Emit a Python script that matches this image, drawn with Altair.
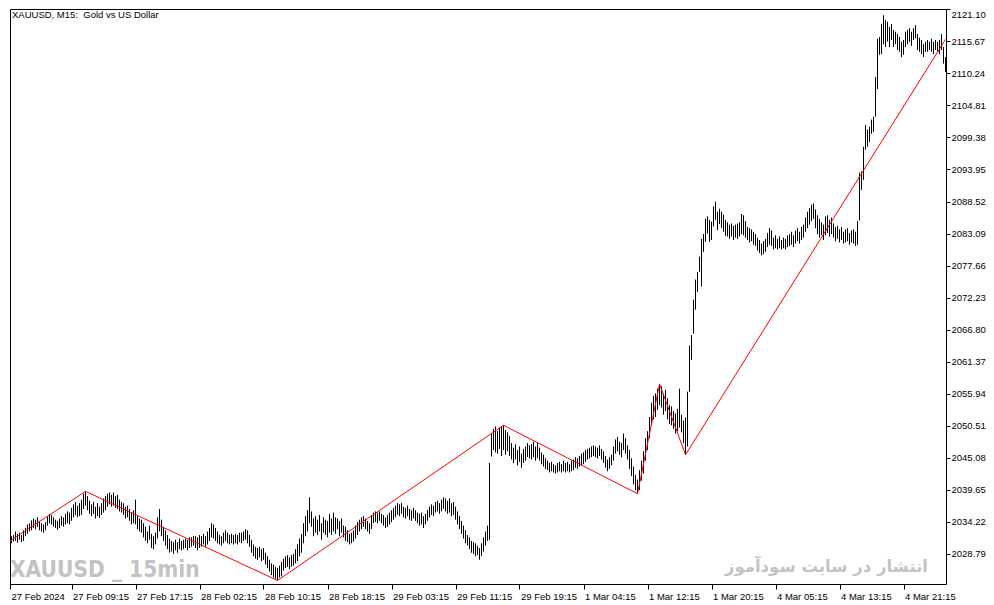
"""XAUUSD M15 bar chart with zigzag, MT5 style."""

import altair as alt
import pandas as pd

FONT = "Liberation Sans"
GRIS = "#c3c3c3"

# bar lows / highs, one entry per 15 min bar (27 Feb 01:45 .. 5 Mar)
lows = [
    2030.6, 2030.9, 2031.0, 2030.7, 2031.2, 2030.8, 2031.0,
    2031.8, 2032.2, 2032.6, 2032.8, 2033.2, 2033.0, 2033.4, 2032.8, 2032.6, 2032.4, 2032.8,
    2033.6, 2034.0, 2033.8, 2033.4, 2033.2, 2032.9, 2033.2, 2033.6, 2033.4, 2033.8, 2034.0, 2033.8,
    2034.4, 2035.0, 2035.4, 2035.0, 2035.2, 2035.4, 2036.4, 2037.0,
    2036.2, 2035.6, 2035.2, 2035.6, 2034.8, 2035.2, 2034.9, 2035.4, 2035.8, 2036.2,
    2036.8, 2037.2, 2036.8, 2037.0, 2036.6, 2036.4, 2036.0, 2035.8,
    2035.4, 2034.8, 2035.0, 2034.4, 2033.8, 2034.0, 2033.8, 2033.0, 2032.6,
    2032.4, 2031.6, 2031.0, 2030.6, 2031.2, 2029.8, 2029.6, 2030.4,
    2031.4, 2032.6, 2031.8, 2031.0,
    2030.2, 2029.6, 2029.0, 2029.2, 2028.8, 2029.4, 2029.0, 2029.6,
    2029.4, 2029.6, 2029.8, 2029.4, 2029.8, 2030.0, 2030.2, 2029.8,
    2029.4, 2029.8, 2030.0, 2030.4, 2030.0, 2030.4,
    2031.0, 2031.6, 2031.4, 2031.0, 2030.6,
    2030.4, 2030.2, 2030.6, 2031.0, 2030.6, 2030.4, 2030.6, 2030.4,
    2030.6, 2030.4, 2030.8, 2030.6, 2031.0, 2031.2, 2030.6, 2030.0,
    2029.0, 2028.4, 2028.0, 2027.8, 2028.2, 2027.6, 2027.8, 2027.0,
    2026.4, 2025.8, 2025.2, 2024.8, 2024.6, 2024.3, 2024.8, 2025.0,
    2026.0, 2026.4, 2026.6, 2026.2, 2026.6, 2026.8,
    2027.2, 2027.6, 2028.4, 2029.0, 2030.6, 2031.8, 2032.6, 2034.0,
    2033.4, 2031.8, 2032.4, 2032.0, 2032.6, 2031.2, 2032.4, 2032.0, 2031.6,
    2032.4, 2032.0, 2032.6, 2032.2, 2033.0, 2031.8, 2032.4, 2031.6, 2031.0,
    2030.8, 2030.4, 2030.6, 2030.9, 2031.4, 2032.0, 2032.6,
    2033.0, 2033.4, 2033.0, 2032.6, 2032.2, 2033.0,
    2034.0, 2034.2, 2034.0, 2034.4, 2034.0, 2033.6, 2033.2, 2033.4, 2033.8, 2034.2, 2034.6,
    2035.0, 2035.4, 2035.2, 2035.6, 2035.0, 2034.8, 2035.2, 2034.6,
    2034.4, 2034.8, 2034.4, 2034.0, 2033.6, 2033.8, 2033.2, 2033.8,
    2034.4, 2035.0, 2035.4, 2035.2, 2035.8, 2036.0, 2035.6,
    2036.0, 2036.4, 2036.0, 2035.6, 2035.8, 2035.2, 2035.4,
    2034.6, 2033.8, 2033.0, 2032.2, 2031.4,
    2030.6, 2030.2, 2029.6, 2029.0, 2028.8, 2028.4, 2028.6, 2027.8, 2028.4, 2029.2, 2030.2, 2031.0,
    2031.2, 2045.3, 2046.4, 2046.0, 2045.8, 2046.6, 2045.4, 2046.4, 2045.6, 2046.2, 2045.4,
    2044.8, 2044.2, 2044.8, 2043.8, 2044.4, 2043.4, 2044.2,
    2044.6, 2045.2, 2045.0, 2044.8, 2045.2, 2044.6, 2045.0, 2044.6,
    2044.0, 2043.6, 2043.2,
    2043.0, 2042.6, 2042.8, 2042.6, 2042.4, 2042.6, 2042.8, 2042.6, 2042.8, 2042.6, 2042.8, 2042.6, 2042.8,
    2043.0, 2043.4, 2043.2, 2043.6, 2043.8, 2044.0, 2044.4,
    2044.8, 2045.0, 2045.2, 2045.4, 2045.2, 2045.0, 2045.4, 2044.8, 2044.2,
    2043.4, 2042.8, 2043.2, 2043.8,
    2044.6, 2045.8, 2046.2, 2045.6, 2045.2, 2046.4, 2045.8, 2044.8, 2043.2, 2042.0,
    2040.6, 2039.6, 2039.0, 2039.6, 2041.2, 2042.4, 2044.6,
    2046.4, 2048.4, 2050.6, 2051.6, 2052.0, 2053.2, 2054.0, 2053.6, 2052.4, 2053.0, 2051.6, 2050.8,
    2050.6, 2050.0, 2049.2, 2049.6, 2050.2, 2049.4, 2047.6, 2045.6, 2047.0, 2056.3, 2061.7,
    2066.1, 2070.2, 2073.2, 2076.6, 2074.1, 2080.0, 2081.7, 2083.1, 2081.7, 2082.0, 2084.3, 2085.4, 2083.7,
    2084.7, 2084.0, 2083.4, 2082.7, 2082.6, 2082.2, 2082.6, 2082.0, 2082.4, 2082.2, 2082.6, 2083.0, 2082.8, 2082.4,
    2082.0, 2081.6, 2081.8, 2081.2, 2081.0,
    2080.2, 2079.8, 2079.4, 2079.6, 2080.0,
    2080.8, 2081.2, 2081.0,
    2080.4, 2080.6, 2080.4, 2080.6, 2080.4, 2080.6, 2080.4,
    2080.8, 2081.0, 2081.2, 2080.8, 2081.4, 2081.8, 2081.4, 2082.0, 2082.4,
    2083.4, 2084.0, 2084.6, 2085.2, 2085.6, 2084.0,
    2083.0, 2082.4, 2082.8, 2082.0, 2082.8, 2083.2, 2082.6, 2083.0, 2082.4,
    2081.8, 2082.2, 2081.6, 2082.0, 2081.4, 2081.6, 2081.8, 2081.2, 2081.6, 2081.4, 2081.0, 2081.2,
    2085.3, 2090.5, 2092.2, 2097.3, 2097.8, 2098.6, 2100.0, 2100.3, 2102.9, 2107.6, 2113.4, 2113.5,
    2115.2, 2114.7, 2115.6, 2114.7, 2115.9, 2114.7, 2115.2, 2114.2, 2113.9, 2113.0, 2113.4, 2114.7, 2115.2, 2115.6,
    2114.9, 2115.9, 2116.2, 2114.2, 2113.9, 2113.5, 2113.0, 2113.9, 2113.9,
    2114.2, 2113.9, 2113.5, 2114.2, 2113.9, 2113.5, 2114.2, 2111.9, 2110.5,
]

highs = [
    2031.8, 2032.0, 2032.6, 2032.2, 2032.4, 2032.0, 2032.8,
    2033.2, 2033.8, 2034.0, 2034.5, 2034.8, 2034.6, 2035.0, 2034.4, 2034.0, 2033.8, 2034.2,
    2035.2, 2035.6, 2035.4, 2035.0, 2034.6, 2034.4, 2034.8, 2035.2, 2035.0, 2035.6, 2036.0, 2035.8,
    2036.6, 2037.2, 2037.6, 2037.0, 2037.4, 2038.0, 2039.0, 2039.4,
    2038.6, 2037.8, 2037.2, 2037.6, 2036.8, 2037.4, 2036.8, 2037.4, 2038.2, 2038.6,
    2039.0, 2039.2, 2038.8, 2039.2, 2038.6, 2038.8, 2038.0, 2037.6,
    2037.4, 2036.8, 2037.0, 2036.4, 2035.8, 2036.2, 2038.0, 2035.2, 2034.8,
    2034.6, 2034.0, 2033.4, 2032.6, 2033.6, 2032.2, 2031.8, 2032.4,
    2035.0, 2036.4, 2034.6, 2033.4,
    2032.8, 2032.0, 2031.4, 2031.0, 2030.8, 2031.2, 2030.8, 2031.4,
    2031.0, 2031.2, 2031.4, 2031.2, 2031.6, 2031.6, 2031.8, 2031.8,
    2031.6, 2032.0, 2031.8, 2032.2, 2031.8, 2032.6,
    2033.2, 2034.0, 2033.8, 2033.2, 2032.6,
    2032.0, 2031.8, 2032.4, 2032.8, 2032.4, 2032.0, 2032.2, 2032.0,
    2032.2, 2032.0, 2032.4, 2032.4, 2032.6, 2033.0, 2032.8, 2032.0,
    2031.2, 2030.4, 2030.0, 2029.8, 2030.0, 2029.6, 2029.8, 2029.0,
    2028.4, 2027.8, 2027.2, 2027.0, 2026.6, 2026.4, 2026.8, 2027.4,
    2028.0, 2028.4, 2028.6, 2028.2, 2028.6, 2028.8,
    2029.6, 2030.4, 2031.4, 2032.2, 2034.0, 2035.2, 2036.2, 2038.4,
    2036.0, 2034.8, 2035.2, 2034.6, 2035.4, 2034.0, 2035.0, 2034.6, 2034.4,
    2035.6, 2034.8, 2035.8, 2035.0, 2034.8, 2034.4, 2034.8, 2033.6, 2033.4,
    2032.8, 2032.2, 2032.4, 2032.8, 2033.6, 2034.2, 2034.6,
    2035.0, 2035.2, 2034.8, 2034.4, 2034.0, 2035.4,
    2035.8, 2036.0, 2035.8, 2036.0, 2035.6, 2035.4, 2035.0, 2035.4, 2035.8, 2036.2, 2036.6,
    2037.0, 2037.4, 2037.2, 2037.4, 2036.8, 2036.6, 2037.0, 2036.4,
    2036.2, 2036.6, 2036.2, 2035.8, 2035.6, 2035.8, 2035.2, 2035.6,
    2036.2, 2036.8, 2037.2, 2037.0, 2037.6, 2037.8, 2037.4,
    2038.0, 2038.4, 2038.2, 2037.8, 2038.2, 2037.4, 2037.6,
    2036.8, 2036.0, 2035.2, 2034.4, 2033.6,
    2032.8, 2032.0, 2031.6, 2031.0, 2030.8, 2030.6, 2030.2, 2029.8, 2030.6, 2031.6, 2032.6, 2033.6,
    2044.2, 2049.3, 2050.0, 2050.4, 2049.6, 2050.2, 2050.4, 2050.6, 2049.8, 2049.4, 2048.8,
    2047.6, 2046.8, 2047.4, 2046.4, 2047.0, 2045.8, 2046.6,
    2047.0, 2047.6, 2047.2, 2047.4, 2047.8, 2047.0, 2047.6, 2046.8,
    2046.0, 2045.6, 2045.0,
    2044.6, 2044.2, 2044.4, 2044.0, 2043.8, 2044.2, 2044.4, 2044.0, 2044.6, 2044.2, 2044.4, 2044.0, 2044.6,
    2044.8, 2045.2, 2045.0, 2045.4, 2045.8, 2046.0, 2046.4,
    2046.6, 2046.8, 2047.0, 2047.2, 2047.0, 2046.8, 2047.2, 2046.6, 2046.2,
    2045.4, 2044.8, 2045.2, 2045.6,
    2047.0, 2048.2, 2048.6, 2047.8, 2047.6, 2049.2, 2048.4, 2047.2, 2046.4, 2045.0,
    2043.6, 2042.2, 2041.4, 2043.0, 2044.6, 2046.2, 2048.4,
    2049.6, 2052.0, 2054.4, 2055.6, 2056.0, 2056.8, 2057.6, 2057.2, 2056.0, 2056.6, 2055.2, 2054.0,
    2053.8, 2053.0, 2052.6, 2053.4, 2056.8, 2052.4, 2051.4, 2051.9, 2056.3, 2064.1, 2065.9,
    2071.9, 2075.3, 2076.6, 2079.2, 2082.2, 2083.0, 2085.6, 2086.0, 2085.4, 2085.1, 2087.7, 2088.5, 2086.8,
    2087.3, 2086.8, 2086.3, 2085.4, 2085.0, 2084.6, 2084.8, 2084.4, 2084.6, 2084.8, 2085.0, 2086.4, 2086.2, 2085.2,
    2084.2, 2084.0, 2083.8, 2083.4, 2083.0,
    2082.4, 2082.0, 2081.4, 2081.8, 2082.2,
    2083.2, 2084.0, 2083.6,
    2082.4, 2082.8, 2082.2, 2082.6, 2082.0, 2082.4, 2082.2,
    2082.8, 2083.0, 2083.4, 2082.8, 2083.6, 2084.0, 2083.4, 2084.2, 2084.6,
    2085.8, 2086.8, 2087.4, 2088.0, 2088.2, 2087.2,
    2086.2, 2085.6, 2085.0, 2084.6, 2086.0, 2086.2, 2085.4, 2085.8, 2084.8,
    2084.2, 2084.4, 2083.8, 2084.2, 2083.4, 2083.8, 2084.0, 2083.2, 2083.6, 2083.8, 2083.4, 2085.2,
    2093.4, 2093.6, 2097.8, 2101.5, 2100.7, 2101.2, 2102.4, 2102.9, 2109.6, 2116.1, 2116.4, 2118.6,
    2120.1, 2119.3, 2119.0, 2118.1, 2118.6, 2117.6, 2117.3, 2116.9, 2116.4, 2115.6, 2115.9, 2117.3, 2117.6, 2117.9,
    2117.3, 2117.9, 2118.4, 2116.9, 2116.3, 2115.9, 2115.2, 2115.6, 2115.9,
    2115.6, 2116.1, 2115.6, 2115.9, 2115.6, 2115.9, 2116.9, 2114.7, 2113.0,
]

assert len(lows) == len(highs) == 468

# zigzag pivots (bar index, price)
zz_idx = [-0.75, 37, 133, 246, 313, 324, 337, 467]
zz_price = [2031.0, 2039.4, 2024.3, 2050.6, 2039.0, 2057.6, 2045.6, 2116.0]

# axis ticks
price_ticks = [2028.79, 2034.22, 2039.65, 2045.08, 2050.51, 2055.94, 2061.37, 2066.80, 2072.23,
               2077.66, 2083.09, 2088.52, 2093.95, 2099.38, 2104.81, 2110.24, 2115.67, 2121.10]
time_ticks = [-0.75, 30, 62, 94, 126, 158, 190, 222, 254, 286, 318, 350, 382, 414, 446]
time_labels = ["27 Feb 2024", "27 Feb 09:15", "27 Feb 17:15", "28 Feb 02:15", "28 Feb 10:15",
               "28 Feb 18:15", "29 Feb 03:15", "29 Feb 11:15", "29 Feb 19:15", "1 Mar 04:15",
               "1 Mar 12:15", "1 Mar 20:15", "4 Mar 05:15", "4 Mar 13:15", "4 Mar 21:15"]

barras = pd.DataFrame({"i": range(len(lows)), "low": lows, "high": highs})
zigzag = pd.DataFrame({"i": zz_idx, "price": zz_price})

label_expr = (
    "[" + ",".join(f"'{t}'" for t in time_labels) + "]"
    + "[indexof([" + ",".join(str(v) for v in time_ticks) + "], datum.value)]"
)

x_enc = alt.X(
    "i:Q",
    scale=alt.Scale(domain=[-0.75, 467.25], nice=False, zero=False),
    axis=alt.Axis(
        values=time_ticks, tickCount=len(time_ticks) + 2, labelExpr=label_expr,
        orient="bottom", title=None, grid=False, domain=False, tickSize=5, tickColor="black",
        labelAlign="left", labelBaseline="top", labelPadding=2, labelOffset=1,
        labelFlush=False, labelOverlap=False, labelBound=False,
        labelFont=FONT, labelFontSize=9.5, labelColor="black",
    ),
)
y_scale = alt.Scale(domain=[2023.7, 2121.15], nice=False, zero=False)
# labelFlush keeps the top label inside the view so the plot is not pushed down
y_axis = alt.Axis(
    values=price_ticks, tickCount=len(price_ticks) + 2, format=".2f", orient="right",
    title=None, grid=False, domain=False, tickSize=4, tickColor="black",
    labelPadding=1, labelFlush=True, labelOverlap=False, labelBound=False,
    labelFont=FONT, labelFontSize=9.5, labelColor="black",
)

velas = alt.Chart(barras).mark_rule(color="black", strokeWidth=1).encode(
    x=x_enc,
    y=alt.Y("low:Q", scale=y_scale, axis=y_axis),
    y2="high:Q",
)

linea = alt.Chart(zigzag).mark_line(color="#ff0000", strokeWidth=1).encode(
    x=alt.X("i:Q"),
    y=alt.Y("price:Q"),
)


def texto(t, x, y, **kw):
    return alt.Chart(pd.DataFrame({"t": [t]})).mark_text(**kw).encode(
        x=alt.value(x), y=alt.value(y), text="t:N"
    )


titulo = texto("XAUUSD, M15:\u00a0 Gold vs US Dollar", 2, 1, font=FONT, fontSize=9.5,
               align="left", baseline="top", color="black")
marca = texto("XAUUSD _ 15min", 0, 568,
              font="DejaVu Sans Condensed, Liberation Sans Narrow, Liberation Sans",
              fontSize=22.5, fontWeight="bold", align="left", baseline="alphabetic", color=GRIS)
persa = texto("انتشار در سایت سودآموز", 918, 563, font="DejaVu Sans", fontSize=16.5,
              fontWeight="bold", align="right", baseline="alphabetic", color=GRIS)

chart = alt.layer(velas, linea, titulo, marca, persa).properties(
    width=936, height=575, padding=0, background="white",
).configure_view(stroke="black", strokeWidth=1)

chart.save("out.html", embed_options={"renderer": "svg", "actions": False})
